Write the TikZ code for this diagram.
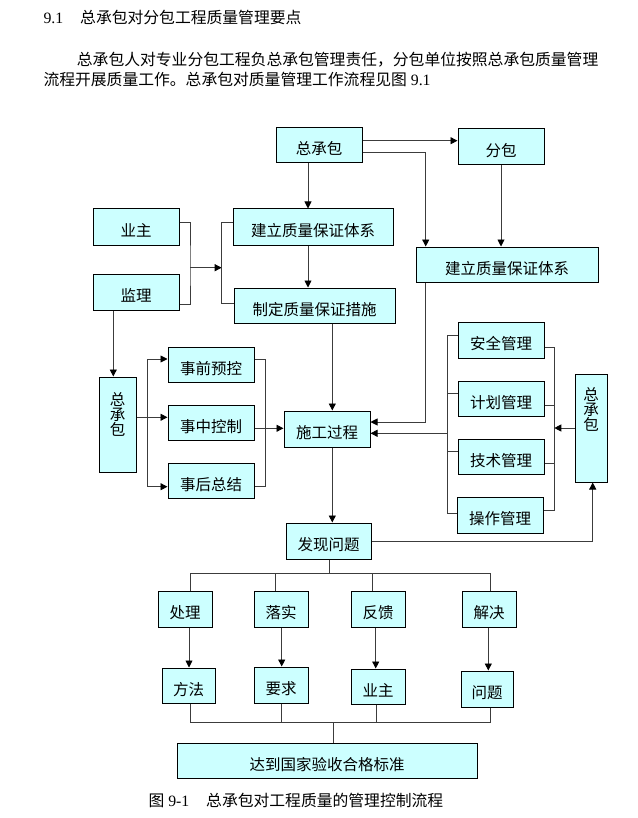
\documentclass[tikz,border=0pt]{standalone}
\usepackage{fontspec}
\setmainfont{Liberation Serif}
\newfontfamily\cjk{Noto Sans CJK SC}
\usetikzlibrary{arrows.meta,calc}
\definecolor{boxfill}{HTML}{CCFFFF}
\definecolor{linec}{HTML}{3C3C3C}
\begin{document}
\begin{tikzpicture}[x=1pt,y=-1pt,
  bx/.style={draw=black, line width=1pt, fill=boxfill, inner sep=0pt,
    text height=19pt, text depth=0pt,
    font=\cjk\fontsize{15.5}{16}\selectfont},
  vbx/.style={bx, text height=40pt},
  ln/.style={draw=linec, line width=0.9pt},
  arr/.style={ln, -{Triangle[length=7pt,width=7pt,color=black]}},
  txt/.style={inner sep=0pt, anchor=base west, font=\fontsize{15.8}{18}\selectfont},
]
\useasboundingbox (0,0) rectangle (637,818);
\fill[white] (0,0) rectangle (637,818);

% header text
\node[txt] (h1) at (43.3,23.3) {9.1};
\node[txt] (h2) at (80,23.3) {\cjk 总承包对分包工程质量管理要点};
\node[txt] (p1) at (76.7,65.3) {\cjk 总承包人对专业分包工程负总承包管理责任，分包单位按照总承包质量管理};
\node[txt] (p2) at (43.3,85.3) {{\cjk 流程开展质量工作。总承包对质量管理工作流程见图} 9.1};

% boxes
\node[bx, minimum width=86pt, minimum height=35pt] (zcb) at (319,145.5) {总承包};
\node[bx, minimum width=86pt, minimum height=36pt] (fb) at (501,147) {分包};
\node[bx, minimum width=160pt, minimum height=36pt] (jl1) at (313,227) {建立质量保证体系};
\node[bx, minimum width=161pt, minimum height=35pt] (zd) at (314.5,305.5) {制定质量保证措施};
\node[bx, minimum width=86pt, minimum height=36pt] (yz) at (136,227) {业主};
\node[bx, minimum width=86pt, minimum height=36pt] (jl) at (136,292) {监理};
\node[bx, minimum width=182pt, minimum height=35pt] (jl2) at (507,264.5) {建立质量保证体系};
\node[vbx, text depth=17.2pt, minimum width=37pt, minimum height=95pt] (zcbL) at (117.5,424.5) {\shortstack{总\\[-1.5pt]承\\[-1.5pt]包}};
\node[bx, minimum width=86pt, minimum height=35pt] (sq) at (211,364.5) {事前预控};
\node[bx, minimum width=86pt, minimum height=35pt] (sz) at (211,422.5) {事中控制};
\node[bx, minimum width=86pt, minimum height=35pt] (sh) at (211,480.5) {事后总结};
\node[bx, minimum width=86pt, minimum height=36pt] (sg) at (327,429) {施工过程};
\node[bx, minimum width=86pt, minimum height=36pt] (aq) at (501,340) {安全管理};
\node[bx, minimum width=86pt, minimum height=35pt] (jh) at (501,398.5) {计划管理};
\node[bx, minimum width=86pt, minimum height=35pt] (js) at (501,456.5) {技术管理};
\node[bx, minimum width=86pt, minimum height=36pt] (cz) at (500,515) {操作管理};
\node[vbx, text depth=34.2pt, minimum width=32pt, minimum height=108pt] (zcbR) at (591,428) {\shortstack{总\\[-1.5pt]承\\[-1.5pt]包}};
\node[bx, minimum width=85pt, minimum height=36pt] (fx) at (328.5,541) {发现问题};
\node[bx, minimum width=54pt, minimum height=36pt] (cl) at (185,609) {处理};
\node[bx, minimum width=54pt, minimum height=36pt] (ls) at (281,609) {落实};
\node[bx, minimum width=54pt, minimum height=36pt] (fk) at (378,609) {反馈};
\node[bx, minimum width=54pt, minimum height=36pt] (jj) at (489,609) {解决};
\node[bx, minimum width=53pt, minimum height=35pt] (ff) at (188.5,685.5) {方法};
\node[bx, minimum width=54pt, minimum height=36pt] (yq) at (281,685) {要求};
\node[bx, minimum width=54pt, minimum height=35pt] (yz2) at (378,686.5) {业主};
\node[bx, minimum width=52pt, minimum height=36pt] (wt) at (487,689) {问题};
\node[bx, minimum width=300pt, minimum height=35pt] (db) at (327,760.5) {达到国家验收合格标准};

% caption
\node[txt] (c1) at (148.3,806) {{\cjk 图} 9-1};
\node[txt] (c2) at (206,806) {\cjk 总承包对工程质量的管理控制流程};

% coordinates
\coordinate (lbr) at (190,267.7);
\coordinate (lbr2) at (221.7,267.7);
\coordinate (lb) at (147.7,417.3);
\coordinate (rb) at (265,486.7);
\coordinate (gb1) at (447.3,335.7);
\coordinate (gb2) at (447.3,513.3);
\coordinate (gbm) at (447.3,433.3);
\coordinate (rb2) at (554.3,510);
\coordinate (tL) at (190,573.3);
\coordinate (tR) at (490,573.3);
\coordinate (bL) at (190,722.7);
\coordinate (bR) at (490,722.7);

% top connectors
\draw[arr] ([xshift=-11pt]zcb.south) -- ([xshift=-11pt]zcb.south |- jl1.north);
\draw[arr] ([yshift=4.8pt]zcb.east) -- ([yshift=4.8pt]zcb.east -| fb.west);
\draw[arr] ([yshift=-6.8pt]zcb.east) -| ([xshift=-81.3pt]jl2.north);
\draw[arr] (fb.south) -- (fb.south |- jl2.north);
\draw[arr] ([xshift=-5pt]jl1.south) -- ([xshift=-5pt]jl1.south |- zd.north);

% owner / supervisor bracket
\draw[ln] ([yshift=4.7pt]yz.east) -| (lbr) |- ([yshift=-12pt]jl.east);
\draw[arr] (lbr) -- (lbr2);
\draw[ln] ([yshift=4.7pt]jl1.west) -| (lbr2) |- ([yshift=2.2pt]zd.west);

% left group
\draw[arr] ([xshift=-22.7pt]jl.south) -- ([xshift=-22.7pt]jl.south |- zcbL.north);
\draw[arr] ([yshift=7.2pt]zcbL.east) -- ([yshift=7.2pt]zcbL.east -| sz.west);
\draw[arr] (lb) |- ([yshift=5.5pt]sq.west);
\draw[arr] (lb) |- ([yshift=-6.2pt]sh.west);
\draw[ln] ([yshift=5.5pt]sq.east) -| (rb) -- ([yshift=-6.2pt]sh.east);
\draw[arr] ([yshift=-5.8pt]sz.east) -- ([yshift=-5.8pt]sz.east -| sg.west);

% centre column
\draw[arr] ([xshift=17.8pt]zd.south) -- ([xshift=17.8pt]zd.south |- sg.north);
\draw[arr] ([xshift=5.3pt]sg.south) -- ([xshift=5.3pt]sg.south |- fx.north);
\draw[arr] ([xshift=-81.3pt]jl2.south) |- ([yshift=7pt]sg.east);

% right group
\draw[ln] ([yshift=4.3pt]aq.west) -| (gb2) -- ([yshift=1.7pt]cz.west);
\draw[ln] ([yshift=5.2pt]jh.west) -- ([yshift=5.2pt]jh.west -| gb1);
\draw[ln] ([yshift=5.5pt]js.west) -- ([yshift=5.5pt]js.west -| gb1);
\draw[arr] (gbm) -- ([yshift=-4.3pt]sg.east);
\draw[ln] ([yshift=-7.3pt]aq.east) -| (rb2) -- ([yshift=5pt]cz.east);
\draw[ln] ([yshift=-6.8pt]jh.east) -- ([yshift=-6.8pt]jh.east -| rb2);
\draw[ln] ([yshift=-6.8pt]js.east) -- ([yshift=-6.8pt]js.east -| rb2);
\draw[arr] (zcbR.west) -- (zcbR.west -| rb2);
\draw[arr] (fx.east) -| ([xshift=1.7pt]zcbR.south);

% problem tree
\draw[ln] (tL) -- (tR);
\draw[ln] ([xshift=0.8pt]fx.south) -- ([xshift=0.8pt]fx.south |- tL);
\draw[ln] ([xshift=5pt]cl.north) -- ([xshift=5pt]cl.north |- tL);
\draw[ln] ([xshift=-5.3pt]ls.north) -- ([xshift=-5.3pt]ls.north |- tL);
\draw[ln] ([xshift=-5.7pt]fk.north) -- ([xshift=-5.7pt]fk.north |- tL);
\draw[ln] ([xshift=1pt]jj.north) -- ([xshift=1pt]jj.north |- tL);

\draw[arr] ([xshift=4pt]cl.south) -- ([xshift=4pt]cl.south |- ff.north);
\draw[arr] ([xshift=0.7pt]ls.south) -- ([xshift=0.7pt]ls.south |- yq.north);
\draw[arr] ([xshift=-2.3pt]fk.south) -- ([xshift=-2.3pt]fk.south |- yz2.north);
\draw[arr] ([xshift=-0.7pt]jj.south) -- ([xshift=-0.7pt]jj.south |- wt.north);

\draw[ln] (bL) -- (bR);
\draw[ln] ([xshift=1.5pt]ff.south) -- ([xshift=1.5pt]ff.south |- bL);
\draw[ln] ([xshift=0.7pt]yq.south) -- ([xshift=0.7pt]yq.south |- bL);
\draw[ln] ([xshift=-2pt]yz2.south) -- ([xshift=-2pt]yz2.south |- bL);
\draw[ln] ([xshift=3pt]wt.south) -- ([xshift=3pt]wt.south |- bL);
\draw[ln] ([xshift=6.3pt]db.north) -- ([xshift=6.3pt]db.north |- bL);
\end{tikzpicture}
\end{document}
